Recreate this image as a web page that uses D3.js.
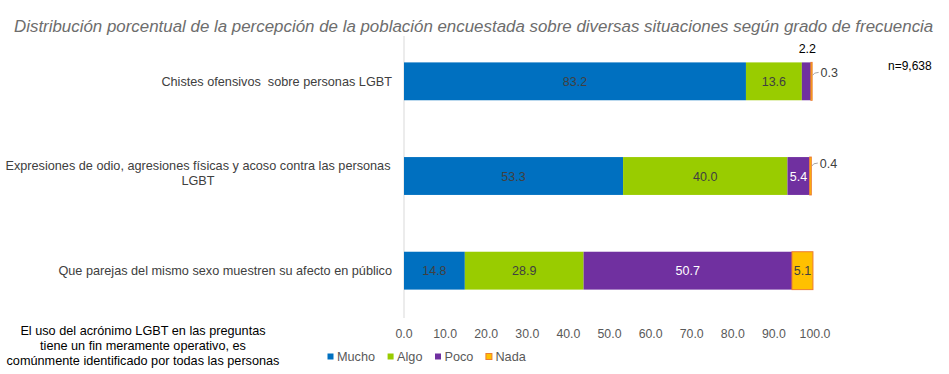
<!DOCTYPE html>
<html>
<head>
<meta charset="utf-8">
<script src="https://cdn.jsdelivr.net/npm/d3@7"></script>
<style>
  body { margin: 0; background: #fff; }
  svg { display: block; font-family: "Liberation Sans", Arial, sans-serif; }
</style>
</head>
<body>
<div id="chart"></div>
<script>
const categories = [
  ["Chistes ofensivos\u00a0 sobre personas LGBT"],
  ["Expresiones de odio, agresiones físicas y acoso contra las personas", "LGBT"],
  ["Que parejas del mismo sexo muestren su afecto en público"]
];
const seriesNames = ["Mucho", "Algo", "Poco", "Nada"];
const mucho = [83.2, 53.3, 14.8];
const algo = [13.6, 40.0, 28.9];
const poco = [2.2, 5.4, 50.7];
const nada = [0.3, 0.4, 5.1];
const ticks = [0, 10, 20, 30, 40, 50, 60, 70, 80, 90, 100];

const colors = ["#0070C0", "#99CC00", "#7030A0", "#FFC000"];
const labelColors = ["#404040", "#404040", "#ffffff", "#404040"];

const width = 949, height = 374;
const svg = d3.select("#chart").append("svg")
  .attr("width", width).attr("height", height);

const x = d3.scaleLinear().domain([0, 100]).range([404, 815]);
const y = d3.scaleBand().domain(d3.range(categories.length))
  .range([34, 318]).paddingInner(0.6).paddingOuter(0.3);

// title
svg.append("text")
  .attr("x", 14).attr("y", 32)
  .attr("font-size", 16.9).attr("font-style", "italic").attr("fill", "#6d6d6d")
  .text("Distribución porcentual de la percepción de la población encuestada sobre diversas situaciones según grado de frecuencia");

// vertical axis line
svg.append("line")
  .attr("x1", x(0)).attr("x2", x(0)).attr("y1", 36).attr("y2", 318)
  .attr("stroke", "#d9d9d9");

// category labels
categories.forEach((lines, i) => {
  const cy = y(i) + y.bandwidth() / 2;
  const t = svg.append("text")
    .attr("text-anchor", lines.length > 1 ? "middle" : "end")
    .attr("font-size", 12.7).attr("fill", "#404040");
  lines.forEach((ln, j) => {
    t.append("tspan")
      .attr("x", lines.length > 1 ? 198 : 392)
      .attr("y", cy + 4.5 + (j - (lines.length - 1) / 2) * 15 - (lines.length > 1 ? 3 : 0))
      .text(ln);
  });
});

const table = categories.map((c, i) => [mucho[i], algo[i], poco[i], nada[i]]);
const stacked = table.map((row, i) => {
  let acc = 0;
  return row.map((v, k) => {
    const s = {row: i, k, v, x0: acc, x1: acc + v};
    acc += v;
    return s;
  });
}).flat();

svg.append("g").selectAll("rect")
  .data(stacked)
  .join("rect")
  .attr("x", (d) => x(d.x0))
  .attr("y", (d) => y(d.row))
  .attr("width", (d) => x(d.x1) - x(d.x0))
  .attr("height", y.bandwidth())
  .attr("fill", (d) => colors[d.k])
  .attr("stroke", (d) => d.k === 3 ? "#ED7D31" : "none")
  .attr("stroke-width", 1);

// inside labels (segments wide enough)
svg.append("g").selectAll("text")
  .data(stacked.filter((d) => d.v >= 5))
  .join("text")
  .attr("x", (d) => (x(d.x0) + x(d.x1)) / 2)
  .attr("y", (d) => y(d.row) + y.bandwidth() / 2 + 4.5)
  .attr("text-anchor", "middle")
  .attr("font-size", 12.5)
  .attr("fill", (d) => labelColors[d.k])
  .text((d) => d.v.toFixed(1));

// small segment labels outside
const small = stacked.filter((d) => d.v < 5);
small.forEach((d) => {
  const top = y(d.row);
  if (d.k === 2) {
    svg.append("text")
      .attr("x", x((d.x0 + d.x1) / 2) + 1).attr("y", top - 9)
      .attr("text-anchor", "middle").attr("font-size", 12.5).attr("fill", "#000")
      .text(d.v.toFixed(1));
  } else {
    const ex = x(d.x1) + 0.5;
    const ly = top + (d.row === 0 ? 10 : 6);
    svg.append("path")
      .attr("d", `M${ex},${ly + 3} Q${ex + 1},${ly} ${ex + 6},${ly}`)
      .attr("fill", "none")
      .attr("stroke", "#a6a6a6");
    svg.append("text")
      .attr("x", ex + 8).attr("y", ly + 4.5)
      .attr("font-size", 12.5).attr("fill", "#404040")
      .text(d.v.toFixed(1));
  }
});

// x axis ticks
svg.append("g").selectAll("text")
  .data(ticks)
  .join("text")
  .attr("x", (d) => x(d))
  .attr("y", 338)
  .attr("text-anchor", "middle")
  .attr("font-size", 12.3).attr("fill", "#595959")
  .text((d) => d.toFixed(1));

// legend
const leg = svg.append("g").attr("transform", "translate(327,361)");
let lx = 0;
seriesNames.forEach((n, i) => {
  leg.append("rect").attr("x", lx + 0.5).attr("y", -7.5).attr("width", 6).attr("height", 6)
    .attr("fill", colors[i]).attr("stroke", i === 3 ? "#ED7D31" : "none");
  const t = leg.append("text").attr("x", lx + 10).attr("y", 0)
    .attr("font-size", 12.7).attr("fill", "#595959").text(n);
  lx += 10 + t.node().getComputedTextLength() + 12;
});

// sample size
svg.append("text")
  .attr("x", 888).attr("y", 70)
  .attr("font-size", 12).attr("fill", "#000")
  .text("n=9,638");

// note
const note = ["El uso del acrónimo LGBT en las preguntas", "tiene un fin meramente operativo, es", "comúnmente identificado por todas las personas"];
svg.append("text")
  .attr("text-anchor", "middle").attr("font-size", 12.7).attr("fill", "#000")
  .selectAll("tspan").data(note).join("tspan")
  .attr("x", 143).attr("y", (d, i) => 335 + i * 15)
  .text((d) => d);
</script>
</body>
</html>
